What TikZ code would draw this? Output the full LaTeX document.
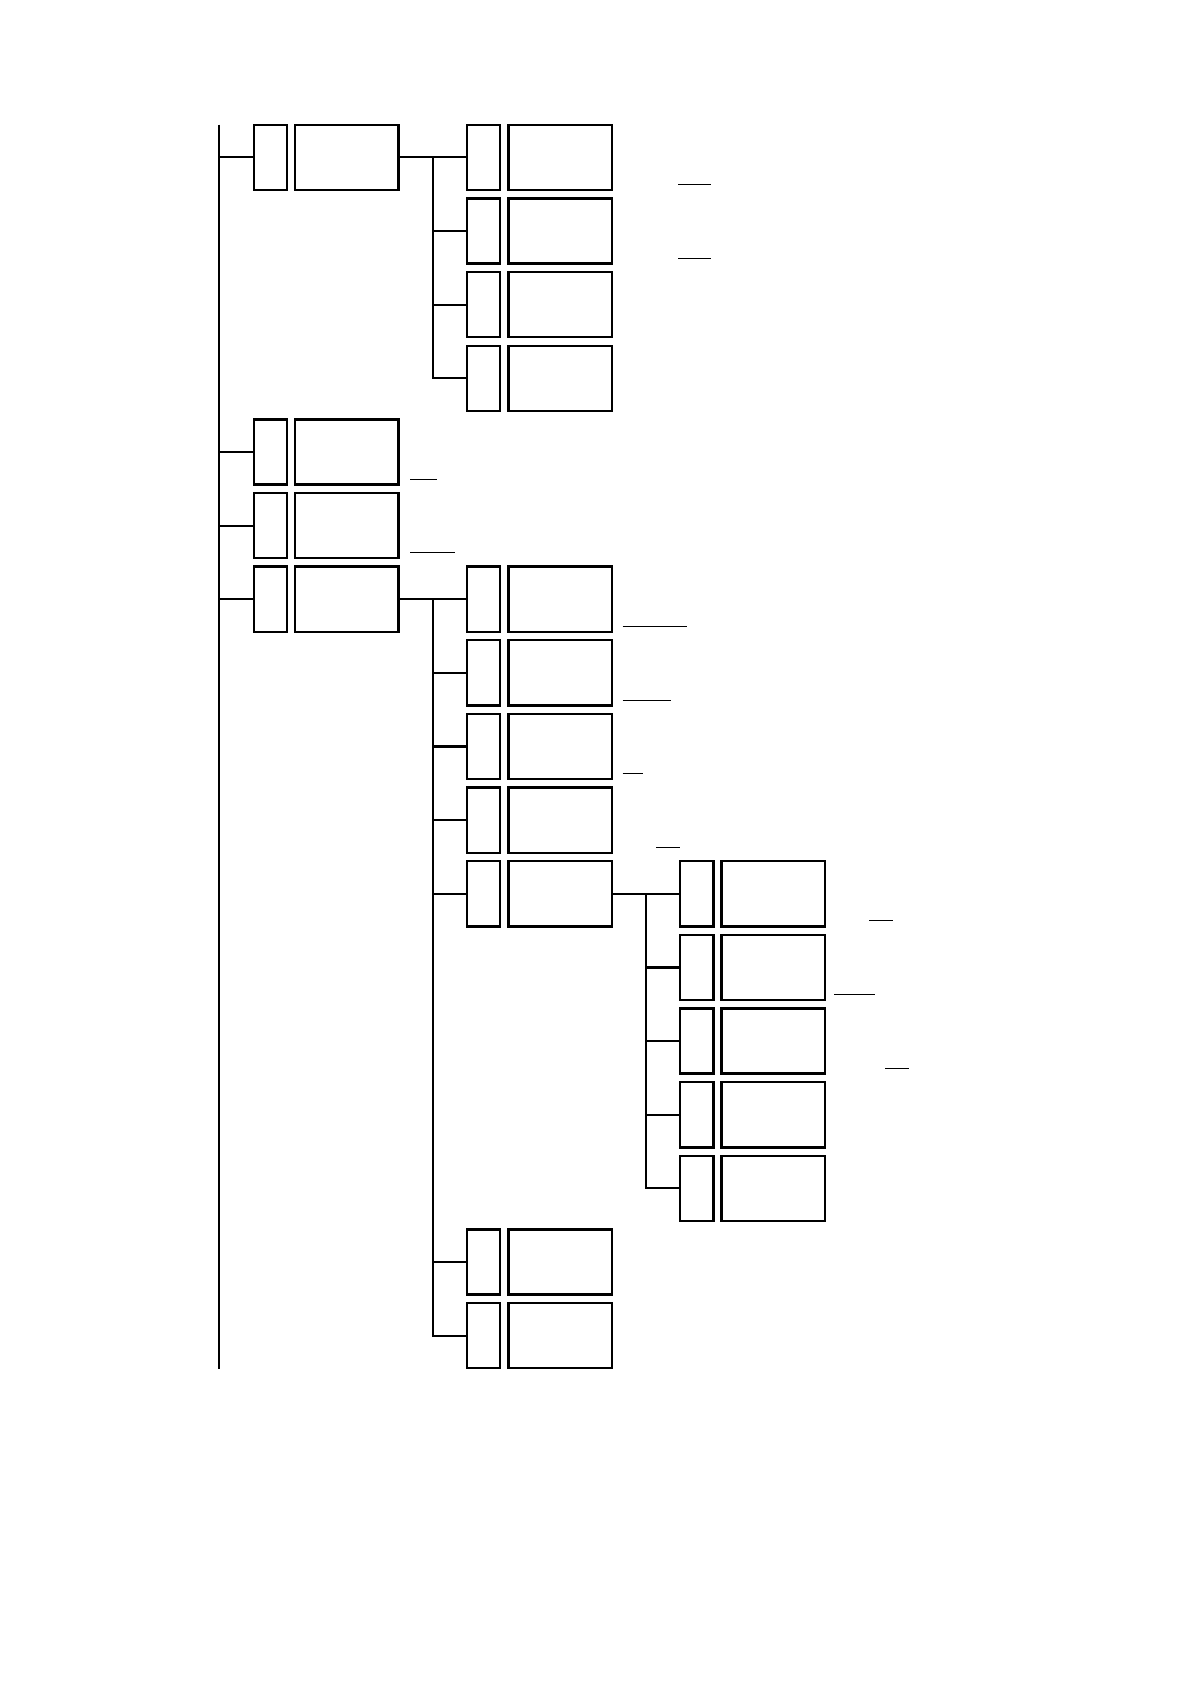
\documentclass[tikz,border=0pt]{standalone}
\usetikzlibrary{calc}
\tikzset{
  idbox/.style={draw, line width=1.2pt, minimum width=16.6pt, minimum height=32.6pt, inner sep=0pt, anchor=north west},
  txtbox/.style={draw, line width=1.2pt, minimum width=51.7pt, minimum height=32.6pt, inner sep=0pt, anchor=north west},
  link/.style={line width=1.1pt},
  uline/.style={line width=0.5pt}
}
\begin{document}
\begin{tikzpicture}[x=0.5pt,y=-0.5pt]
\useasboundingbox (0,0) rectangle (1191,1684);
\foreach \n/\lev/\r in {a/0/0, a1/1/0, a2/1/1, a3/1/2, a4/1/3, b/0/4, c/0/5, d/0/6,
  d1/1/6, d2/1/7, d3/1/8, d4/1/9, d5/1/10, e1/2/10, e2/2/11, e3/2/12, e4/2/13, e5/2/14,
  d6/1/15, d7/1/16}{
  \node[idbox] (\n i) at ({252.5+213.2*\lev},{123.6+73.64*\r}) {};
  \node[txtbox] (\n t) at ({294+213.2*\lev},{123.6+73.64*\r}) {};
}
% level 0 bus
\coordinate (top) at (219,124.6);
\coordinate (bot) at (219,1369);
\draw[link] (top) -- (bot);
\foreach \n in {a,b,c,d}{\draw[link] (top |- \n i.west) -- (\n i.west);}
% level 1 under a
\draw[link] (at.east) -- (a1i.west);
\coordinate (abus) at ($(at.east)!0.5!(a1i.west)$);
\foreach \n in {a2,a3,a4}{\draw[link] (abus) |- (\n i.west);}
% level 1 under d
\draw[link] (dt.east) -- (d1i.west);
\coordinate (dbus) at ($(dt.east)!0.5!(d1i.west)$);
\foreach \n in {d2,d3,d4,d5,d6,d7}{\draw[link] (dbus) |- (\n i.west);}
% level 2 under d5
\draw[link] (d5t.east) -- (e1i.west);
\coordinate (ebus) at ($(d5t.east)!0.5!(e1i.west)$);
\foreach \n in {e2,e3,e4,e5}{\draw[link] (ebus) |- (\n i.west);}
% short rules
\draw[uline] (678.3,185) -- (711,185);
\draw[uline] (678.3,258.7) -- (711,258.7);
\draw[uline] (410,479) -- (436.7,479);
\draw[uline] (410,552.7) -- (454.7,552.7);
\draw[uline] (622.7,626.7) -- (686.7,626.7);
\draw[uline] (622.7,700) -- (671,700);
\draw[uline] (622.7,773.3) -- (643.3,773.3);
\draw[uline] (656,847.7) -- (680.3,847.7);
\draw[uline] (869,920.7) -- (893.3,920.7);
\draw[uline] (834.3,994.3) -- (875,994.3);
\draw[uline] (885,1068.7) -- (909.3,1068.7);
\end{tikzpicture}
\end{document}
